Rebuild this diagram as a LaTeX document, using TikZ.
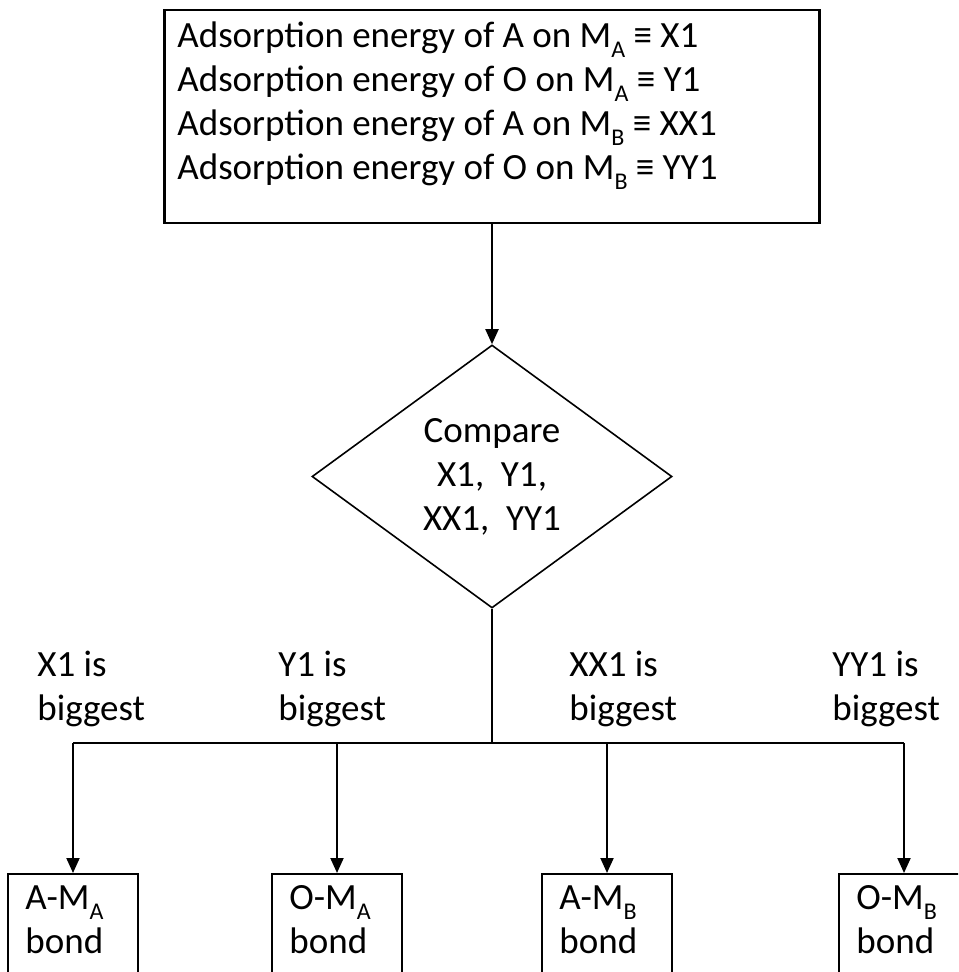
\documentclass[tikz,border=0pt]{standalone}
\usepackage{fontspec}
\setmainfont{Carlito}
\usetikzlibrary{shapes.geometric,arrows.meta}
\newcommand{\lowsub}[1]{\raisebox{-0.27em}{\fontsize{12}{12}\selectfont #1}}
\tikzset{
    txt/.style={font=\fontsize{18.5}{22}\selectfont, inner sep=0pt, align=left},
    leafbox/.style={draw, line width=1pt, minimum width=65pt, minimum height=70pt, anchor=north},
    arr/.style={-{Triangle[length=7.5pt,width=6.5pt]}, line width=1pt}
}
\begin{document}
\begin{tikzpicture}[x=0.5pt,y=-0.5pt]
        \useasboundingbox (0,0) rectangle (958,972);
        \clip (0,0) rectangle (958,972);

        % energies box
        \node[draw, line width=1.3pt, minimum width=327.5pt, minimum height=106.5pt] (params) at (492,116.5) {};
        \node[txt, anchor=base west] (paramtext) at (177,180) {Adsorption energy of A on M\lowsub{A} ≡ X1\\
            Adsorption energy of O on M\lowsub{A} ≡ Y1\\
            Adsorption energy of A on M\lowsub{B} ≡ XX1\\
            Adsorption energy of O on M\lowsub{B} ≡ YY1};

        % decision
        \node[draw, diamond, aspect=1.37, line width=0.8pt, minimum width=180pt, minimum height=131.5pt, txt, align=center] (cmp) at (492,476.5) {Compare\\X1,\ \ Y1,\\XX1,\ \ YY1};

        \draw[arr] (params.south) -- (cmp.north);

        % branches
        \coordinate (split) at (492,743);
        \coordinate (b1) at (73,743);
        \coordinate (b2) at (337,743);
        \coordinate (b3) at (607,743);
        \coordinate (b4) at (904,743);
        \draw[line width=1pt] (cmp.south) -- (split);
        \draw[line width=1pt] (b1) -- (b4);

        \node[txt, anchor=base west] (lx) at (37,720) {X1 is\\biggest};
        \node[txt, anchor=base west] (ly) at (278,720) {Y1 is\\biggest};
        \node[txt, anchor=base west] (lxx) at (569,720) {XX1 is\\biggest};
        \node[txt, anchor=base west] (lyy) at (832,720) {YY1 is\\biggest};

        % bonds
        \node[leafbox] (ama) at (73,873) {};
        \node[leafbox] (oma) at (337,873) {};
        \node[leafbox] (amb) at (607,873) {};
        \node[leafbox] (omb) at (904,873) {};

        \node[txt, anchor=base west] (amatext) at (25,953) {A-M\lowsub{A}\\bond};
        \node[txt, anchor=base west] (omatext) at (289,953) {O-M\lowsub{A}\\bond};
        \node[txt, anchor=base west] (ambtext) at (559,953) {A-M\lowsub{B}\\bond};
        \node[txt, anchor=base west] (ombtext) at (856,953) {O-M\lowsub{B}\\bond};

        % draw arrow
        \draw[arr] (b1) -- (ama.north);
        \draw[arr] (b2) -- (oma.north);
        \draw[arr] (b3) -- (amb.north);
        \draw[arr] (b4) -- (omb.north);
\end{tikzpicture}
\end{document}
